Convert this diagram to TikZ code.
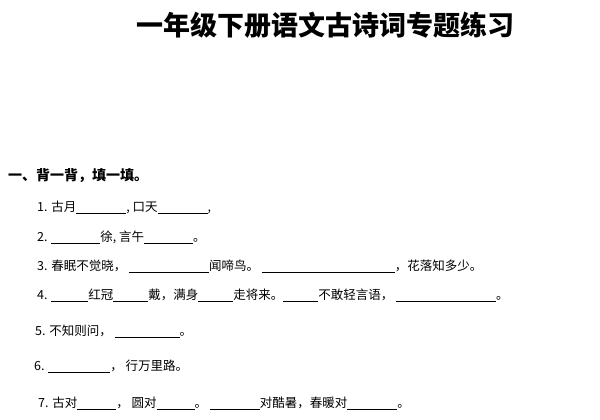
\documentclass[tikz,border=0pt]{standalone}
\usepackage{fontspec}
\setmainfont{Noto Sans CJK SC}
\newcommand{\blank}[1]{\rule[-2pt]{#1pt}{0.5pt}}
\begin{document}
\begin{tikzpicture}[x=1pt,y=-1pt,
  line/.style={anchor=west,inner sep=0pt,font=\fontsize{12.5}{14}\selectfont},
  title/.style={font=\fontsize{27}{30}\selectfont\bfseries}]
\useasboundingbox[fill=white] (0,0) rectangle (600,420);
\node[title] (t) at (325,25) {一年级下册语文古诗词专题练习};
\node[line,font=\fontsize{14}{16}\selectfont\bfseries] (h) at (8,176) {一、背一背，填一填。};
\node[line] (l1) at (37,207) {1. 古月\blank{50}, 口天\blank{50},};
\node[line] (l2) at (37,237) {2. \blank{49}徐, 言午\blank{49}。};
\node[line] (l3) at (37,266) {3. 春眠不觉晓， \blank{80}闻啼鸟。 \blank{133}，花落知多少。};
\node[line] (l4) at (37,295) {4. \blank{37}红冠\blank{35}戴，满身\blank{35}走将来。\blank{35}不敢轻言语， \blank{100}。};
\node[line] (l5) at (35,331) {5. 不知则问， \blank{65}。};
\node[line] (l6) at (34,366) {6. \blank{62}， 行万里路。};
\node[line] (l7) at (38,403) {7. 古对\blank{39}， 圆对\blank{38}。 \blank{50}对酷暑，春暖对\blank{50}。};
\end{tikzpicture}
\end{document}
